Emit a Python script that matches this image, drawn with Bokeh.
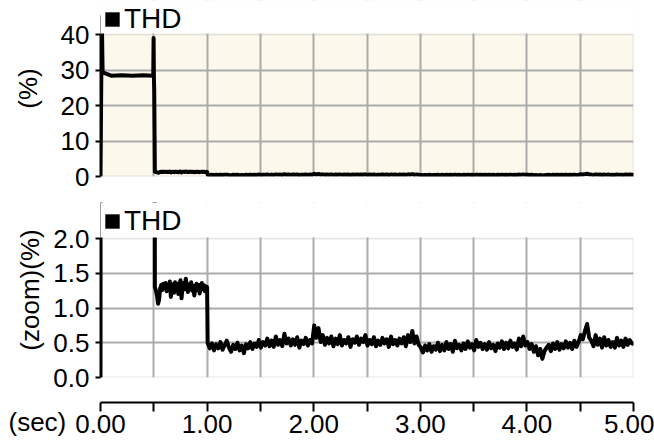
from bokeh.plotting import figure
from bokeh.layouts import column
from bokeh.models import (Legend, LegendItem, FixedTicker, Title, Range1d,
                          ColumnDataSource, NumeralTickFormatter, BoxAnnotation)
from bokeh.embed import file_html
from bokeh.resources import INLINE

# ---------------- data ----------------
# start-up transient (sec, %)
startup_time = [0.0, 0.012, 0.02, 0.1, 0.2, 0.3, 0.4, 0.495, 0.498, 0.501, 0.504]
startup_thd = [0.0, 45.0, 29.3, 28.4, 28.5, 28.4, 28.5, 28.4, 39.0, 28.0, 24.0]

# stage 2: 0.51 .. 1.00 s, every 0.01 s
stage2_start, stage2_step = 0.51, 0.01
stage2_thd = [
    1.30, 1.25, 1.18, 1.06, 1.12, 1.28, 1.33, 1.26, 1.35, 1.29,
    1.36, 1.24, 1.32, 1.27, 1.38, 1.16, 1.30, 1.34, 1.22, 1.37,
    1.28, 1.35, 1.20, 1.33, 1.40, 1.14, 1.31, 1.36, 1.27, 1.42,
    1.30, 1.23, 1.34, 1.28, 1.37, 1.25, 1.32, 1.18, 1.29, 1.35,
    1.26, 1.33, 1.21, 1.30, 1.36, 1.27, 1.33, 1.24, 1.31, 1.30,
]

# stage 3: from 1.005 s, every 0.02 s
stage3_start, stage3_step = 1.005, 0.02
stage3_thd = [
    0.50, 0.42, 0.49, 0.39, 0.48, 0.42, 0.51, 0.40, 0.47, 0.53,
    0.43, 0.37, 0.47, 0.41, 0.50, 0.39, 0.46, 0.35, 0.48, 0.42,
    0.51, 0.41, 0.49, 0.44, 0.54, 0.43, 0.51, 0.46, 0.56, 0.45,
    0.53, 0.44, 0.59, 0.47, 0.54, 0.45, 0.63, 0.49, 0.56, 0.46,
    0.55, 0.47, 0.58, 0.43, 0.53, 0.48, 0.57, 0.46, 0.54, 0.49,
    0.75, 0.57, 0.71, 0.51, 0.61, 0.47, 0.57, 0.49, 0.59, 0.45,
    0.56, 0.48, 0.61, 0.46, 0.54, 0.49, 0.58, 0.44, 0.55, 0.50,
    0.59, 0.47, 0.56, 0.51, 0.61, 0.46, 0.54, 0.48, 0.58, 0.45,
    0.53, 0.47, 0.57, 0.49, 0.55, 0.44, 0.59, 0.48, 0.54, 0.46,
    0.56, 0.49, 0.58, 0.45, 0.61, 0.51, 0.67, 0.49, 0.59, 0.47,
    0.43, 0.36, 0.46, 0.39, 0.48, 0.37, 0.45, 0.40, 0.50, 0.38,
    0.47, 0.39, 0.51, 0.41, 0.48, 0.37, 0.53, 0.42, 0.47, 0.39,
    0.49, 0.41, 0.52, 0.43, 0.48, 0.39, 0.54, 0.44, 0.50, 0.41,
    0.48, 0.40, 0.51, 0.42, 0.47, 0.38, 0.49, 0.43, 0.52, 0.41,
    0.50, 0.42, 0.53, 0.44, 0.49, 0.40, 0.56, 0.45, 0.59, 0.46,
    0.51, 0.41, 0.48, 0.37, 0.45, 0.32, 0.41, 0.27, 0.38, 0.43,
    0.47, 0.38, 0.49, 0.41, 0.51, 0.40, 0.48, 0.42, 0.52, 0.43,
    0.50, 0.41, 0.53, 0.44, 0.51, 0.61, 0.55, 0.67, 0.77, 0.57,
    0.53, 0.45, 0.61, 0.47, 0.56, 0.43, 0.58, 0.46, 0.54, 0.44,
    0.51, 0.43, 0.57, 0.46, 0.53, 0.44, 0.56, 0.47, 0.54, 0.49,
    0.48,
]

series_name = "THD"
top_max = 40
zoom_max = 2.0
top_ticks = [0, 10, 20, 30, 40]
zoom_ticks = [0.0, 0.5, 1.0, 1.5, 2.0]
x_major = [0, 1, 2, 3, 4, 5]
x_minor = [0.5, 1.5, 2.5, 3.5, 4.5]
x_end = 5
top_label = "(%)"
zoom_label = "(zoom)(%)"
x_unit = "(sec)"

# ---------------- assemble ----------------
time_s = list(startup_time)
thd = list(startup_thd)
for i, v in enumerate(stage2_thd):
    time_s.append(round(stage2_start + stage2_step * i, 4))
    thd.append(v)
for i, v in enumerate(stage3_thd):
    time_s.append(round(stage3_start + stage3_step * i, 4))
    thd.append(v)
src = ColumnDataSource(data=dict(t=time_s, thd=thd))

FONT = "Liberation Sans"
TXT = "26px"
GRID = "#ABABAB"
W = 654
LEFT = 100
RIGHT = 21


def build_panel(height, border_top, border_bottom, plot_px, ymax, yticks, fmt,
                label, standoff, bg, lw):
    # frame reaches up to the legend row; data scale keeps ymax at plot_px
    frame_h = height - border_top - border_bottom
    top_val = ymax * frame_h / plot_px
    p = figure(width=W, height=height, x_range=Range1d(0, x_end),
               y_range=Range1d(0, top_val), x_axis_location=None,
               toolbar_location=None, output_backend="svg",
               min_border_left=LEFT, min_border_right=RIGHT,
               min_border_top=border_top, min_border_bottom=border_bottom)
    p.background_fill_color = bg
    p.outline_line_color = None
    p.xgrid.ticker = FixedTicker(ticks=x_minor + x_major[1:-1])
    p.ygrid.ticker = FixedTicker(ticks=yticks[1:-1])
    for g in (p.xgrid, p.ygrid):
        g.grid_line_color = GRID
        g.grid_line_width = 2
    # plot-area border
    p.add_layout(BoxAnnotation(left=0, right=x_end, bottom=0, top=ymax,
                               fill_alpha=0, line_color=GRID, line_width=2,
                               level="underlay"))
    ax = p.yaxis[0]
    ax.bounds = (0, ymax)
    ax.ticker = FixedTicker(ticks=yticks)
    ax.formatter = NumeralTickFormatter(format=fmt)
    ax.axis_line_color = "black"
    ax.axis_line_width = 2
    ax.major_tick_line_color = "black"
    ax.major_tick_line_width = 2
    ax.major_tick_out = 5
    ax.major_tick_in = 0
    ax.minor_tick_line_color = None
    ax.major_label_standoff = 6
    ax.major_label_text_font = FONT
    ax.major_label_text_font_size = TXT
    ax.major_label_text_color = "black"
    ax.axis_label = label
    ax.axis_label_text_font = FONT
    ax.axis_label_text_font_size = TXT
    ax.axis_label_text_font_style = "normal"
    ax.axis_label_text_color = "black"
    ax.axis_label_standoff = standoff
    p.line("t", "thd", source=src, line_color="black", line_width=lw,
           line_join="round")
    # blank band above the plot area, where the legend sits
    p.add_layout(BoxAnnotation(bottom=ymax + 1.0 * ymax / plot_px,
                               fill_color="white", fill_alpha=1,
                               line_color=None))
    # square legend swatch tied to the same series (not drawn in the plot)
    sq = p.quad(left="t", right="t", top="thd", bottom="thd", source=src,
                fill_color="black", line_color=None, visible=False)
    leg = Legend(items=[LegendItem(label=series_name, renderers=[sq])],
                 location="top_left", padding=0, margin=3,
                 glyph_width=18, glyph_height=18, label_standoff=3,
                 label_text_font=FONT, label_text_font_size="28px",
                 label_text_color="black", inactive_fill_alpha=0,
                 background_fill_alpha=0, border_line_alpha=0)
    p.add_layout(leg)
    return p


p1 = build_panel(192, 0, 16, 142, top_max, top_ticks, "0", top_label, 15,
                 "#FDF8EC", 4)
p2 = build_panel(201, 10, 16, 139, zoom_max, zoom_ticks, "0.0", zoom_label, 5,
                 "white", 4)
p2.x_range = p1.x_range

# time axis
p3 = figure(width=W, height=50, x_range=p1.x_range, y_range=Range1d(0, 1),
            y_axis_location=None, toolbar_location=None, output_backend="svg",
            min_border_left=LEFT, min_border_right=RIGHT,
            min_border_top=0, min_border_bottom=41)
p3.outline_line_color = None
p3.background_fill_color = None
p3.xgrid.visible = False
p3.ygrid.visible = False
xa = p3.xaxis[0]
xa.ticker = FixedTicker(ticks=x_major, minor_ticks=x_minor)
xa.formatter = NumeralTickFormatter(format="0.00")
xa.axis_line_color = "black"
xa.axis_line_width = 2
xa.major_tick_line_width = 2
xa.minor_tick_line_width = 2
xa.major_tick_out = 9
xa.major_tick_in = 0
xa.minor_tick_out = 9
xa.minor_tick_in = 0
xa.major_label_standoff = 3
xa.major_label_text_font = FONT
xa.major_label_text_font_size = TXT
xa.major_label_text_color = "black"
p3.add_layout(Title(text=x_unit, align="left", offset=-92, standoff=-58,
                    vertical_align="top", text_font=FONT, text_font_size=TXT,
                    text_font_style="normal", text_color="black"), "below")

layout = column(p1, p2, p3, spacing=0)
open("out.html", "w").write(file_html(layout, INLINE))
